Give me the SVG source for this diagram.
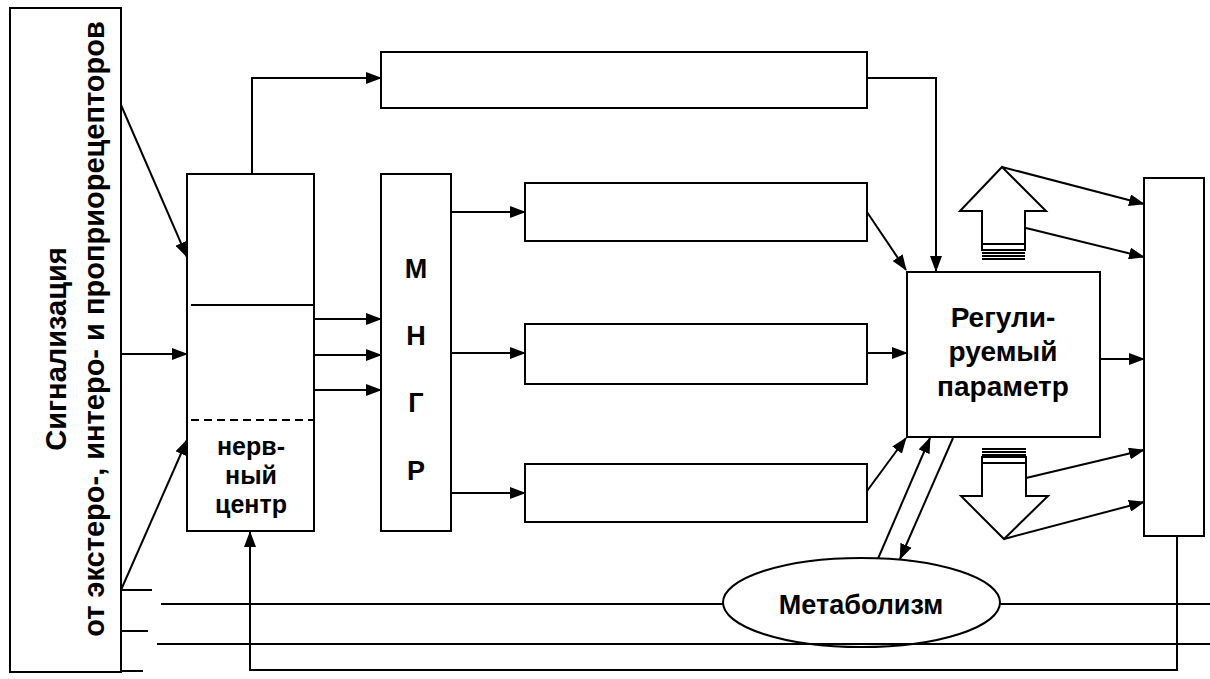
<svg xmlns="http://www.w3.org/2000/svg" width="1210" height="679" viewBox="0 0 1210 679">
<style>
.box{fill:#fff;stroke:#000;stroke-width:2}
.ln{fill:none;stroke:#000;stroke-width:2}
.arr{fill:none;stroke:#000;stroke-width:2;marker-end:url(#ah)}
.t{font-family:"Liberation Sans",Arial,sans-serif;font-weight:bold;fill:#000;text-anchor:middle}
</style>
<defs>
<marker id="ah" markerUnits="userSpaceOnUse" markerWidth="16" markerHeight="12" refX="15" refY="6" orient="auto">
<path d="M0,0 L16,6 L0,12 z" fill="#000"/>
</marker>
</defs>
<rect width="1210" height="679" fill="#fff"/>

<g id="signal">
<rect class="box" x="10" y="8" width="111" height="664"/>
<text class="t" font-size="29" transform="translate(66,349) rotate(-90)">Сигнализация</text>
<text class="t" font-size="29" transform="translate(104,329) rotate(-90)">от экстеро-, интеро- и проприорецепторов</text>
</g>

<g id="nerve-center">
<rect class="box" x="187" y="174" width="127" height="357"/>
<line class="ln" x1="191" y1="305" x2="314" y2="305"/>
<line class="ln" x1="191" y1="420" x2="314" y2="420" stroke-dasharray="8,5"/>
<text class="t" font-size="25" x="251" y="455">нерв-</text>
<text class="t" font-size="25" x="251" y="484">ный</text>
<text class="t" font-size="25" x="251" y="513">центр</text>
</g>

<g id="mngr">
<rect class="box" x="381" y="174" width="70" height="357"/>
<text class="t" font-size="27" x="416" y="278">М</text>
<text class="t" font-size="27" x="416" y="345">Н</text>
<text class="t" font-size="27" x="416" y="412">Г</text>
<text class="t" font-size="27" x="416" y="480">Р</text>
</g>

<g id="top-box"><rect class="box" x="381" y="52" width="486" height="56"/></g>
<g id="box-1"><rect class="box" x="525" y="183" width="342" height="58"/></g>
<g id="box-2"><rect class="box" x="525" y="324" width="342" height="60"/></g>
<g id="box-3"><rect class="box" x="525" y="464" width="342" height="58"/></g>

<g id="regulated">
<rect class="box" x="907" y="272" width="193" height="165"/>
<text class="t" font-size="28" x="1003" y="327">Регули-</text>
<text class="t" font-size="28" x="1003" y="361">руемый</text>
<text class="t" font-size="28" x="1003" y="396">параметр</text>
</g>

<g id="right-box"><rect class="box" x="1144" y="178" width="60" height="358"/></g>

<g id="up-arrow">
<polygon class="box" points="1002,167 1046,211 1025,211 1025,244 982,244 982,211 960,211"/>
<rect x="982" y="244" width="43" height="6" fill="none" stroke="#000" stroke-width="2"/>
<line class="ln" x1="982" y1="253" x2="1025" y2="253"/>
<line class="ln" x1="982" y1="256" x2="1025" y2="256"/>
<line class="ln" x1="982" y1="259" x2="1025" y2="259"/>
</g>

<g id="down-arrow">
<line class="ln" x1="982" y1="449" x2="1026" y2="449"/>
<line class="ln" x1="982" y1="452" x2="1026" y2="452"/>
<line class="ln" x1="982" y1="455" x2="1026" y2="455"/>
<rect x="982" y="457" width="44" height="6" fill="none" stroke="#000" stroke-width="2"/>
<polygon class="box" points="982,463 1026,463 1026,496 1048,496 1004,539 961,496 982,496"/>
</g>

<g id="connectors">
<line class="arr" x1="121" y1="105" x2="187" y2="257"/>
<line class="arr" x1="121" y1="354" x2="187" y2="354"/>
<line class="arr" x1="121" y1="590" x2="187" y2="440"/>
<line class="arr" x1="314" y1="319" x2="381" y2="319"/>
<line class="arr" x1="314" y1="355" x2="381" y2="355"/>
<line class="arr" x1="314" y1="390" x2="381" y2="390"/>
<polyline class="arr" points="252,174 252,78 381,78"/>
<polyline class="arr" points="867,78 936,78 936,271"/>
<line class="arr" x1="451" y1="212" x2="525" y2="212"/>
<line class="arr" x1="451" y1="353" x2="525" y2="353"/>
<line class="arr" x1="451" y1="493" x2="525" y2="493"/>
<line class="arr" x1="867" y1="212" x2="906" y2="270"/>
<line class="arr" x1="867" y1="353" x2="907" y2="353"/>
<line class="arr" x1="867" y1="491" x2="906" y2="438"/>
<line class="arr" x1="877" y1="561" x2="930" y2="438"/>
<line class="arr" x1="953" y1="438" x2="900" y2="559"/>
<line class="arr" x1="1100" y1="359" x2="1144" y2="359"/>
<line class="arr" x1="1002" y1="167" x2="1144" y2="204"/>
<line class="arr" x1="1026" y1="228" x2="1144" y2="257"/>
<line class="arr" x1="1026" y1="478" x2="1144" y2="450"/>
<line class="arr" x1="1004" y1="539" x2="1144" y2="502"/>
<polyline class="arr" points="1177,536 1177,670 250,670 250,532"/>
<line class="ln" x1="121" y1="590" x2="152" y2="590"/>
<line class="ln" x1="121" y1="631" x2="148" y2="631"/>
<line class="ln" x1="121" y1="671" x2="143" y2="671"/>
<line class="ln" x1="161" y1="604" x2="1210" y2="604"/>
</g>

<g id="metabolism">
<ellipse class="box" cx="861.5" cy="602.5" rx="138.5" ry="44.5"/>
<text class="t" font-size="27" x="861" y="614">Метаболизм</text>
</g>
<g id="line-2"><line class="ln" x1="157" y1="644" x2="1210" y2="644"/></g>
</svg>
